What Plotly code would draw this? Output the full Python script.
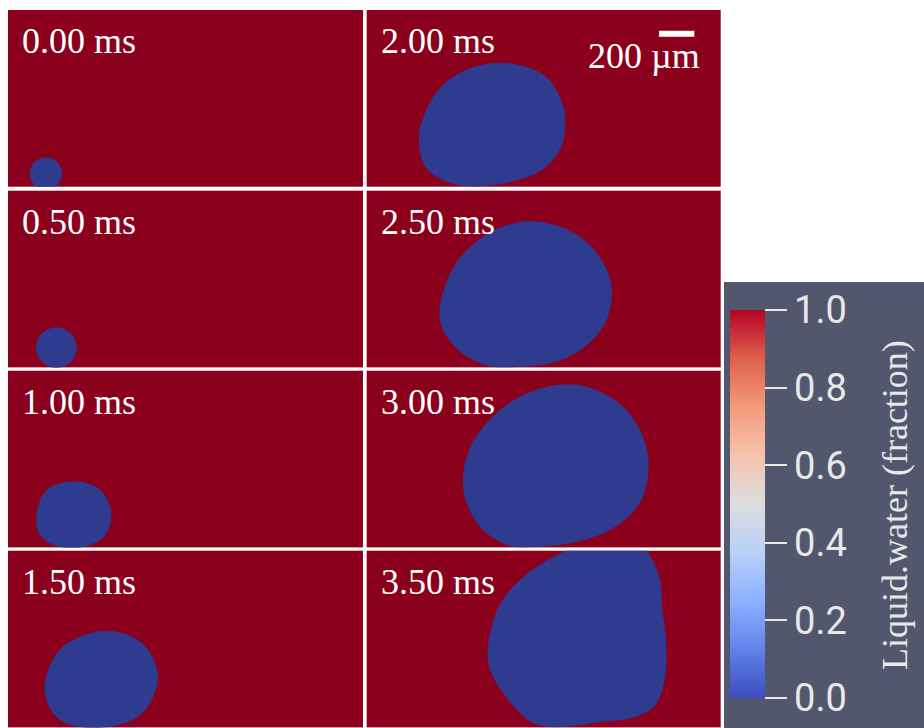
import plotly.graph_objects as go

# ---------------------------------------------------------------------------
# Data: liquid-water field snapshots (bubble = vapour, fraction 0)
# Domain of every snapshot: 2000 um x 1000 um, heater wall at y = 0
# ---------------------------------------------------------------------------
times_ms = [0.00, 0.50, 1.00, 1.50, 2.00, 2.50, 3.00, 3.50]

# bubble interface outlines (um), one pair of lists per snapshot
bubble_000_x = [302, 276, 213, 150, 124, 150, 213, 276]
bubble_000_y = [75, 138, 164, 138, 75, 11, -15, 11]

bubble_050_x = [385, 352, 272, 192, 159, 192, 272, 352]
bubble_050_y = [112, 192, 225, 192, 112, 32, -1, 32]

bubble_100_x = [579, 518, 377, 220, 162, 190, 349, 535]
bubble_100_y = [194, 324, 371, 324, 177, 60, -4, 58]

bubble_150_x = [556, 762, 843, 744, 490, 282, 208, 304]
bubble_150_y = [544, 468, 280, 72, -1, 53, 223, 449]

bubble_200_x = [772, 998, 1092, 1120, 1092, 998, 848, 527, 339, 297, 320, 414, 565]
bubble_200_y = [698, 632, 500, 368, 217, 104, 38, 10, 104, 274, 387, 557, 660]

bubble_250_x = [961, 1187, 1318, 1380, 1356, 1262, 1092, 810, 678, 509, 414, 489, 622, 772]
bubble_250_y = [824, 749, 617, 466, 277, 145, 41, 3, 13, 108, 277, 560, 711, 796]

bubble_300_x = [1177, 1384, 1516, 1588, 1554, 1441, 1252, 913, 800, 650, 565, 546, 593, 744, 932]
bubble_300_y = [919, 843, 711, 504, 277, 145, 51, 3, 13, 108, 258, 390, 579, 767, 881]

# the 3.50 ms bubble has reached the top of the domain
bubble_350_x = [1262, 1400, 1530, 1648, 1667, 1689, 1685, 1629, 1515, 1309, 1064, 932, 781, 697,
                687, 744, 857, 1026]
bubble_350_y = [1055, 1110, 1060, 862, 674, 485, 297, 127, 61, 32, 4, 32, 183, 334,
                448, 674, 825, 947]

bubbles = [
    (bubble_000_x, bubble_000_y),
    (bubble_050_x, bubble_050_y),
    (bubble_100_x, bubble_100_y),
    (bubble_150_x, bubble_150_y),
    (bubble_200_x, bubble_200_y),
    (bubble_250_x, bubble_250_y),
    (bubble_300_x, bubble_300_y),
    (bubble_350_x, bubble_350_y),
]

domain_x_um = [0, 2000]
domain_y_um = [0, 1000]
scale_bar_um = 200

colorbar_ticks = [0.0, 0.2, 0.4, 0.6, 0.8, 1.0]
colorbar_title = "Liquid.water (fraction)"

# ---------------------------------------------------------------------------
# Styling / layout
# ---------------------------------------------------------------------------
W, H = 924, 728
LIQUID = "#8B001D"
VAPOUR = "#2E3B8F"
PANEL_BG = "#52576E"
LIGHT = "#E8E8E8"
SERIF = "Liberation Serif"

cool_warm = [
    [0.000, "rgb(59,76,192)"],
    [0.125, "rgb(98,130,234)"],
    [0.250, "rgb(141,176,254)"],
    [0.375, "rgb(184,208,249)"],
    [0.500, "rgb(221,221,221)"],
    [0.625, "rgb(245,196,173)"],
    [0.750, "rgb(244,154,123)"],
    [0.875, "rgb(222,96,77)"],
    [1.000, "rgb(180,4,38)"],
]

# grid of snapshots (pixels): two columns, four rows
col_left = [8, 366.7]
col_width = [355, 354]
row_top = [10, 190.7, 370.7, 550.7]
row_height = 176.7

fig = go.Figure()
layout_axes = {}
annotations = []

for k, (t, (bx, by)) in enumerate(zip(times_ms, bubbles)):
    col, row = divmod(k, 4)
    left = col_left[col]
    top = row_top[row]
    x_dom = [left / W, (left + col_width[col]) / W]
    y_dom = [1 - (top + row_height) / H, 1 - top / H]
    sfx = "" if k == 0 else str(k + 1)
    layout_axes["xaxis" + sfx] = dict(domain=x_dom, range=domain_x_um, visible=False,
                                      fixedrange=True, anchor="y" + sfx)
    layout_axes["yaxis" + sfx] = dict(domain=y_dom, range=domain_y_um, visible=False,
                                      fixedrange=True, anchor="x" + sfx)

    # closed outline -> smooth closed spline
    xs = list(bx) + [bx[0]]
    ys = list(by) + [by[0]]
    fig.add_trace(go.Scatter(
        x=xs, y=ys, mode="lines", fill="toself", fillcolor=VAPOUR,
        line=dict(color=VAPOUR, width=1, shape="spline", smoothing=1.0, simplify=False),
        xaxis="x" + sfx, yaxis="y" + sfx, hoverinfo="skip", showlegend=False,
    ))

    annotations.append(dict(
        text=f"{t:.2f} ms", xref="paper", yref="paper",
        x=(left + 12) / W, y=1 - (top + 9) / H, xanchor="left", yanchor="top",
        showarrow=False, font=dict(family=SERIF, size=36, color="white"),
    ))

# colour bar carried by an empty marker trace
fig.add_trace(go.Scatter(
    x=[None], y=[None], mode="markers", hoverinfo="skip", showlegend=False,
    marker=dict(
        color=[0], cmin=0, cmax=1, colorscale=cool_warm, showscale=True,
        colorbar=dict(
            x=730 / W, xanchor="left", y=(H - 504) / H, yanchor="middle",
            len=388 / H, lenmode="fraction", thickness=35, thicknessmode="pixels",
            xpad=0, ypad=0, outlinewidth=0, bgcolor="rgba(0,0,0,0)",
            tickmode="array", tickvals=colorbar_ticks,
            ticktext=[f"{v:.1f}" for v in colorbar_ticks],
            ticks="outside", ticklen=22, tickwidth=2, tickcolor=LIGHT,
            tickfont=dict(family="Roboto", size=38, color=LIGHT),
        ),
    ),
))

annotations.append(dict(
    text=colorbar_title, textangle=-90, xref="paper", yref="paper",
    x=895 / W, y=(H - 505) / H, xanchor="center", yanchor="middle",
    showarrow=False, font=dict(family=SERIF, size=36, color=LIGHT),
))

# scale bar in the 2.00 ms snapshot
bar_x1 = 1851
bar_y0, bar_y1 = 849, 883
shapes = [
    dict(type="rect", xref="paper", yref="paper", x0=724 / W, x1=1, y0=0,
         y1=(H - 282) / H, fillcolor=PANEL_BG, line=dict(width=0), layer="below"),
    dict(type="rect", xref="x5", yref="y5", x0=bar_x1 - scale_bar_um, x1=bar_x1,
         y0=bar_y0, y1=bar_y1, fillcolor="white", line=dict(width=0)),
]
annotations.append(dict(
    text=f"{scale_bar_um} µm", xref="paper", yref="paper",
    x=702 / W, y=1 - 34 / H, xanchor="right", yanchor="top",
    showarrow=False, font=dict(family=SERIF, size=36, color="white"),
))

fig.update_layout(
    width=W, height=H, margin=dict(l=0, r=0, t=0, b=0),
    paper_bgcolor="white", plot_bgcolor=LIQUID,
    shapes=shapes, annotations=annotations, showlegend=False,
    **layout_axes,
)

fig.write_html("out.html")
